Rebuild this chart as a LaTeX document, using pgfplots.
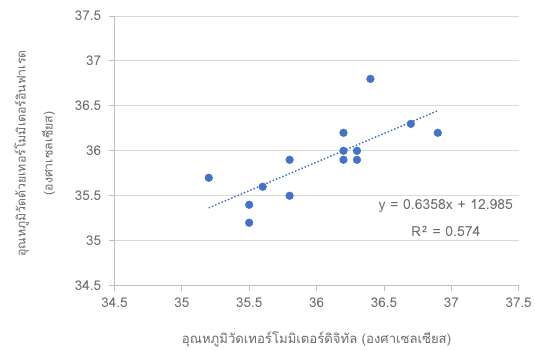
\documentclass[border=0pt]{standalone}
\usepackage{fontspec}
\setmainfont[Script=Thai]{Loma}
\usepackage{pgfplots}
\pgfplotsset{compat=1.18}
\definecolor{ptblue}{HTML}{4472C4}
\definecolor{gridc}{HTML}{D9D9D9}
\definecolor{axc}{HTML}{BFBFBF}
\definecolor{txt}{HTML}{6A6A6A}
\begin{document}
\begin{tikzpicture}
\path (0,0) rectangle (535bp,351bp);
\begin{axis}[
  scale only axis, width=406bp, height=271bp,
  at={(115bp,64bp)}, anchor=south west,
  xmin=34.5, xmax=37.5, ymin=34.5, ymax=37.5,
  xtick={34.5,35,...,37.5}, ytick={34.5,35,...,37.5},
  /pgf/number format/assume math mode=true,
  /pgf/number format/fixed,
  ymajorgrids, grid style={gridc, line width=0.8pt},
  axis x line*=bottom, axis y line*=left,
  axis line style={axc, line width=0.8pt, -},
  tick style={axc, line width=0.8pt},
  tick align=outside, major tick length=5bp,
  ticklabel style={font=\fontsize{13.5bp}{15bp}\selectfont, text=txt},
  xticklabel style={yshift=-4bp},
  yticklabel style={xshift=-5bp},
  xlabel style={font=\fontsize{13.2bp}{16bp}\selectfont, text=txt},
  xlabel={อุณหภูมิวัดเทอร์โมมิเตอร์ดิจิทัล (องศาเซลเซียส)},
  xlabel style={at={(axis description cs:0.5,-0.2)}, anchor=center},
  ylabel={อุณหภูมิวัดด้วยเทอร์โมมิเตอร์อินฟาเรด\\[12bp](องศาเซลเซียส)},
  ylabel style={font=\fontsize{12.4bp}{15bp}\selectfont, text=txt, align=center, at={(axis description cs:-0.197,0.49)}, anchor=center},
  clip=false,
]
\addplot[only marks, mark=*, mark size=3.9bp, mark options={fill=ptblue, draw=ptblue}] coordinates {
(35.2,35.7) (35.6,35.6) (35.5,35.4) (35.5,35.2) (35.8,35.9) (35.8,35.5)
(36.2,36.2) (36.2,36.0) (36.2,35.9) (36.3,36.0) (36.3,35.9) (36.4,36.8)
(36.7,36.3) (36.9,36.2)
};
\addplot[ptblue, line width=1.5pt, dotted] coordinates {(35.2,35.36516) (36.9,36.44602)};
\node[text=txt, font=\fontsize{14bp}{15bp}\selectfont] at (axis cs:36.96,35.39) {y = 0.6358x + 12.985};
\node[text=txt, font=\fontsize{14bp}{15bp}\selectfont] at (axis cs:36.96,35.1) {R² = 0.574};
\end{axis}
\end{tikzpicture}
\end{document}
